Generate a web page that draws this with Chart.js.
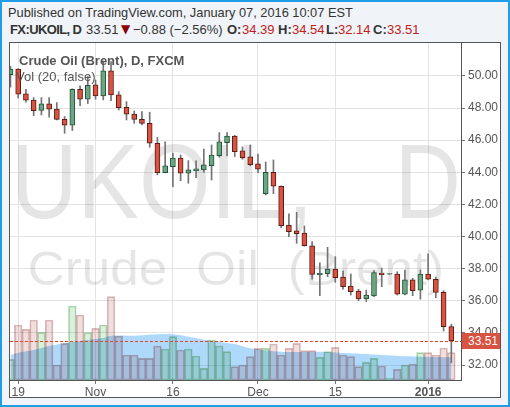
<!DOCTYPE html>
<html>
<head>
<meta charset="utf-8">
<script src="https://cdn.jsdelivr.net/npm/chart.js@4.4.1/dist/chart.umd.min.js"></script>
<style>
  html, body { margin: 0; padding: 0; }
  body { width: 510px; height: 407px; overflow: hidden; position: relative; font-family: "Liberation Sans", Arial, sans-serif; }
  .frame { position: absolute; left: 0; top: 0; width: 510px; height: 407px; box-sizing: border-box; border: 2px solid #1f9ee8; background: #f0f3f7; }
  .t { position: absolute; white-space: nowrap; font-size: 13px; line-height: 15px; color: #333; }
  .b { font-weight: bold; color: #333; }
  .r { color: #c0201a; }
  .panel { position: absolute; left: 9px; top: 42px; width: 492px; height: 356px; box-sizing: border-box; border: 1px solid #555; background: #fff; }
  canvas { display: block; }
</style>
</head>
<body>
<div class="frame"></div>
<div class="t" style="left:8px; top:5px; font-size:12.8px;">Published on TradingView.com, January 07, 2016 10:07 EST</div>
<div class="t b" style="left:10px; top:22px; letter-spacing:-0.6px;">FX:UKOIL, D</div>
<div class="t" style="left:86px; top:22px;">33.51</div>
<div class="t" style="left:121px; top:22px; color:#8b0000; font-family:'DejaVu Sans'; font-size:12px;">▼</div>
<div class="t" style="left:133px; top:22px;">−0.88 (−2.56%)</div>
<div class="t b" style="left:227px; top:22px;">O:</div>
<div class="t r" style="left:242px; top:22px;">34.39</div>
<div class="t b" style="left:278px; top:22px;">H:</div>
<div class="t r" style="left:292px; top:22px;">34.54</div>
<div class="t b" style="left:326px; top:22px;">L:</div>
<div class="t r" style="left:338px; top:22px;">32.14</div>
<div class="t b" style="left:373px; top:22px;">C:</div>
<div class="t r" style="left:387px; top:22px;">33.51</div>
<div class="panel"><canvas id="chart" width="490" height="354"></canvas></div>
<script>
// daily candles, Oct 16 2015 .. Jan 7 2016 (FXCM UKOIL)
const opens = [50.08, 50.42, 48.88, 48.49, 47.86, 48.26, 47.93, 47.30, 46.93, 49.17,
  48.55, 49.44, 48.75, 50.31, 48.82, 48.05, 47.63, 47.30, 47.05, 45.81,
  43.98, 44.35, 44.88, 43.94, 44.10, 44.15, 44.41, 45.04, 45.85, 46.26,
  45.33, 44.96, 44.52, 42.67, 44.00, 43.13, 40.72, 40.35, 40.21, 39.43,
  37.63, 37.69, 37.98, 37.47, 36.92, 36.61, 36.13, 36.30, 37.73, 37.66,
  37.67, 36.41, 37.30, 36.66, 37.67, 37.34, 36.53, 34.39];
const highs = [50.60, 50.45, 49.17, 48.65, 48.65, 48.65, 48.34, 47.47, 49.20, 49.38,
  49.96, 49.75, 50.93, 50.89, 49.02, 48.40, 47.82, 47.78, 47.74, 46.18,
  45.89, 45.19, 45.08, 44.73, 44.71, 45.45, 45.70, 46.47, 46.47, 46.30,
  45.58, 45.70, 45.14, 44.64, 44.77, 43.15, 41.41, 41.51, 40.66, 39.68,
  38.37, 39.33, 38.75, 37.86, 37.67, 36.72, 36.67, 37.88, 38.03, 37.70,
  37.81, 37.92, 37.40, 37.92, 38.92, 37.47, 36.63, 34.54];
const lows = [49.30, 48.63, 48.36, 47.53, 47.57, 47.43, 47.26, 46.43, 46.60, 48.15,
  48.28, 48.55, 48.51, 48.46, 47.88, 47.26, 47.05, 46.95, 45.56, 43.84,
  43.96, 43.11, 43.48, 43.32, 43.67, 44.00, 43.52, 44.94, 45.02, 44.98,
  44.81, 44.40, 43.98, 42.59, 42.67, 40.55, 40.00, 39.58, 39.40, 37.34,
  36.32, 37.50, 37.15, 36.72, 36.36, 36.01, 35.95, 36.26, 36.88, 37.64,
  36.36, 36.36, 36.32, 36.10, 37.30, 36.20, 34.12, 32.14];
const closes = [50.42, 48.86, 48.49, 47.84, 48.26, 47.93, 47.30, 46.93, 49.17, 48.55,
  49.42, 48.75, 50.31, 48.82, 48.03, 47.62, 47.30, 47.05, 45.81, 43.98,
  44.40, 44.88, 43.94, 44.15, 44.21, 44.46, 45.08, 45.89, 46.26, 45.29,
  44.91, 44.48, 44.19, 44.00, 43.13, 40.68, 40.30, 40.18, 39.43, 37.65,
  37.71, 37.98, 37.44, 36.88, 36.57, 36.11, 36.36, 37.75, 37.63, 37.69,
  36.41, 37.30, 36.63, 37.67, 37.34, 36.53, 34.39, 33.51];
// volume, thousands
const volumes = [20.7, 55, 50.7, 60, 47.7, 60, 15, 36.7, 74, 65,
  47.3, 51.7, 55, 83.3, 44, 25, 25, 21.7, 21.7, 34,
  31, 43.3, 30, 31, 24, 11.7, 40, 34, 28.3, 13.3,
  15, 23.3, 31.7, 31.7, 36, 25, 31.7, 36.7, 29.3, 29.3,
  22.7, 28.3, 32.7, 25, 23.3, 13.3, 17.7, 21.7, 14, 2,
  10.7, 15, 16, 27.3, 27.3, 25, 32, 27.3];
// Vol MA(20) read at some bars
const maIdx = [0, 1, 3, 5, 7, 9, 12, 13, 16, 19, 21, 23, 26, 29, 31, 35, 40, 44, 48, 53, 57];
const maVol = [25, 27.3, 30, 34, 36.7, 39, 42, 44.3, 44.3, 45.7, 45.7, 43.3, 39, 36, 31.7, 28.3, 28.3, 26.7, 25, 23.3, 22.7];

const tickIdx = [1, 11, 21, 32, 42, 54];
const tickText = ['19', 'Nov', '16', 'Dec', '15', '2016'];
const priceTicks = [32, 34, 36, 38, 40, 42, 44, 46, 48, 50];
const lastPrice = 33.51;

const FONT = '"Liberation Sans", Arial, sans-serif';
const upColor = '#6ba583', downColor = '#d75442';
const upBorder = '#225437', downBorder = '#5b1a13';
const isUp = i => closes[i] >= opens[i];
const idx = opens.map((_, i) => i);

const backdrop = {
  id: 'backdrop',
  beforeDatasetsDraw(chart) {
    const { ctx, chartArea: a } = chart;
    ctx.save();
    ctx.beginPath();
    ctx.rect(a.left, a.top, a.right - a.left, a.bottom - a.top);
    ctx.clip();
    ctx.fillStyle = 'rgba(0,0,0,0.1)';
    ctx.textBaseline = 'alphabetic';
    const wm = (text, size, spacing, left, right, base) => {
      ctx.font = size + 'px ' + FONT;
      ctx.wordSpacing = spacing + 'px';
      const m = ctx.measureText(text);
      const w = m.actualBoundingBoxLeft + m.actualBoundingBoxRight;
      const sx = (right - left) / w;
      ctx.save();
      ctx.translate(left, base);
      ctx.scale(sx, 1);
      ctx.fillText(text, m.actualBoundingBoxLeft, 0);
      ctx.restore();
    };
    wm('UKOIL, D', 106, 64, 8, 447, 175);
    wm('Crude Oil (Brent)', 48, 14, 20, 432, 242);
    ctx.restore();
  },
  // volume bars are laid over the MA area in multiply mode
  beforeDatasetDraw(chart, args) {
    if (chart.data.datasets[args.index].label === 'Vol') {
      chart.ctx.save();
      chart.ctx.globalCompositeOperation = 'multiply';
    }
  },
  afterDatasetDraw(chart, args) {
    if (chart.data.datasets[args.index].label === 'Vol') chart.ctx.restore();
  },
  afterDatasetsDraw(chart) {
    const { ctx, chartArea: a } = chart;
    ctx.save();
    ctx.globalCompositeOperation = 'source-over';
    ctx.fillStyle = '#555';
    ctx.font = 'bold 13px ' + FONT;
    ctx.textBaseline = 'alphabetic';
    ctx.fillText('Crude Oil (Brent), D, FXCM', a.left + 9, a.top + 21.5);
    ctx.font = '13px ' + FONT;
    ctx.fillText('Vol (20, false)', a.left + 6, a.top + 38);
    ctx.restore();
  },
  afterDraw(chart) {
    const { ctx, chartArea: a, scales } = chart;
    const y = Math.round(scales.y.getPixelForValue(lastPrice));
    ctx.save();
    ctx.globalCompositeOperation = 'source-over';
    ctx.strokeStyle = '#e8412c';
    ctx.lineWidth = 1;
    ctx.setLineDash([3, 2]);
    ctx.beginPath();
    ctx.moveTo(a.left, y + 0.5);
    ctx.lineTo(a.right, y + 0.5);
    ctx.stroke();
    ctx.setLineDash([]);
    ctx.fillStyle = downColor;
    ctx.fillRect(a.right + 1, y - 8, chart.width - a.right - 1, 16);
    ctx.fillStyle = '#fff';
    ctx.font = '12px ' + FONT;
    ctx.textBaseline = 'middle';
    ctx.fillText(lastPrice.toFixed(2), a.right + 7, y + 1);
    ctx.restore();
  }
};

new Chart(document.getElementById('chart'), {
  type: 'bar',
  data: {
    datasets: [
      {
        label: 'body',
        data: idx.map(i => ({ x: i, y: [opens[i], closes[i]] })),
        backgroundColor: idx.map(i => isUp(i) ? upColor : downColor),
        borderColor: idx.map(i => isUp(i) ? upBorder : downBorder),
        borderWidth: 1,
        borderSkipped: false,
        barThickness: 5,
        grouped: false,
        yAxisID: 'y',
        order: 1
      },
      {
        label: 'wick',
        data: idx.map(i => ({ x: i, y: [lows[i], highs[i]] })),
        backgroundColor: '#737375',
        barThickness: 1,
        grouped: false,
        yAxisID: 'y',
        order: 2
      },
      {
        label: 'Vol',
        data: idx.map(i => ({ x: i, y: volumes[i] })),
        backgroundColor: idx.map(i => isUp(i) ? '#dcefdc' : '#f1dfdf'),
        borderColor: idx.map(i => isUp(i) ? '#b2d8b2' : '#dcbcbc'),
        borderWidth: 1,
        borderSkipped: false,
        barPercentage: 1,
        categoryPercentage: 1,
        grouped: false,
        yAxisID: 'yv',
        order: 3
      },
      {
        type: 'line',
        label: 'Vol MA',
        data: maIdx.map((v, k) => ({ x: v, y: maVol[k] })),
        yAxisID: 'yv',
        fill: 'origin',
        backgroundColor: 'rgba(33,150,243,0.36)',
        borderWidth: 0,
        pointRadius: 0,
        tension: 0.3,
        order: 4
      }
    ]
  },
  options: {
    responsive: false,
    animation: false,
    layout: { padding: 0 },
    plugins: { legend: { display: false }, tooltip: { enabled: false } },
    scales: {
      x: {
        type: 'linear',
        min: -0.06,
        max: 58.25,
        bounds: 'data',
        offset: false,
        afterBuildTicks: s => { s.ticks = tickIdx.map(v => ({ value: v })); },
        afterFit: s => { s.height = 17; s.paddingLeft = 0; s.paddingRight = 0; },
        ticks: {
          autoSkip: false,
          maxRotation: 0,
          padding: 1,
          color: '#555',
          callback: v => tickText[tickIdx.indexOf(v)],
          font: c => ({ family: FONT, size: 12, weight: c.index === 5 ? 'bold' : 'normal' })
        },
        grid: { offset: false, color: '#e3e3e3', tickColor: '#777', tickLength: 4 },
        border: { color: '#555' }
      },
      y: {
        type: 'linear',
        position: 'right',
        min: 31.07,
        max: 52.05,
        bounds: 'data',
        afterBuildTicks: s => { s.ticks = priceTicks.map(v => ({ value: v })); },
        afterFit: s => { s.width = 39; s.paddingTop = 0; s.paddingBottom = 0; },
        ticks: {
          padding: 3,
          color: '#555',
          font: { family: FONT, size: 12 },
          callback: v => v.toFixed(2)
        },
        grid: { color: '#e3e3e3', tickColor: '#777', tickLength: 4 },
        border: { color: '#555' }
      },
      yv: {
        type: 'linear',
        display: false,
        min: 0,
        max: 337
      }
    }
  },
  plugins: [backdrop]
});
</script>
</body>
</html>
